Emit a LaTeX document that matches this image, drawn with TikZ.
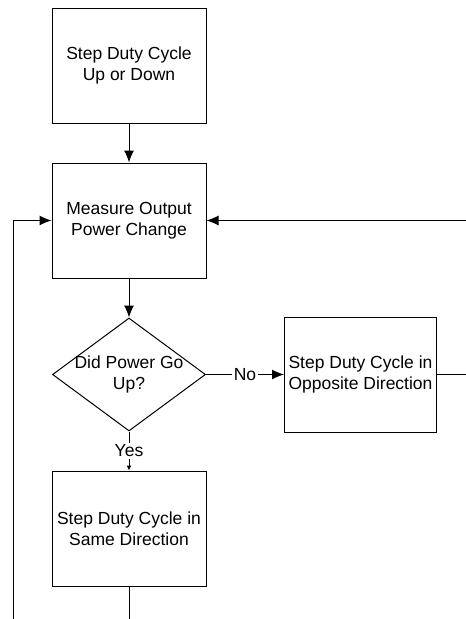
\documentclass[tikz,border=0pt]{standalone}
\usepackage{fontspec}
\setmainfont{Liberation Sans}
\usepackage{tikz}
\usetikzlibrary{arrows.meta,shapes,shapes.geometric,positioning}

\begin{document}
\begin{tikzpicture}[x=1pt,y=-1pt,line width=1pt,
    font=\fontsize{17.5}{20.5}\selectfont,
    stepbox/.style={draw,rectangle,align=center,minimum width=154pt,minimum height=115pt,inner sep=0pt},
    query/.style={draw,diamond,minimum width=153pt,minimum height=113pt,inner sep=0pt},
    flow/.style={-{Latex[length=12pt,width=10pt]}},
    smallflow/.style={-{Latex[length=5pt,width=5pt]}},
    tag/.style={fill=white,inner sep=1.5pt}]
\useasboundingbox (0,0) rectangle (466,619);

\node[stepbox] (step) at (129,65.5) {Step Duty Cycle\\Up or Down};
\node[stepbox,below=39pt of step] (measure) {Measure Output\\Power Change};
\node[query,below=39pt of measure,label={[align=center]center:Did Power Go\\Up?}] (power) {};
\node[stepbox,right=78pt of power,minimum width=152pt] (opposite) {Step Duty Cycle in\\Opposite Direction};
\node[stepbox,below=39pt of power] (same) {Step Duty Cycle in\\Same Direction};

\coordinate (redge) at (466,0);
\coordinate (lfoot) at (13,619);
\coordinate (rin) at (measure.east -| redge);
\coordinate (rout) at (opposite.east -| redge);
\coordinate (sfoot) at (same.south |- lfoot);

\draw[flow] (step) -- (measure);
\draw[flow] (measure) -- (power);
\draw[flow] (power.east) -- node[tag] {No} (opposite.west);
\draw[smallflow] (power.south) -- node[tag] {Yes} (same.north);
\draw (opposite.east) -- (rout);
\draw[flow] (rin) -- (measure.east);
\draw (same.south) -- (sfoot);
\draw[flow] (lfoot) |- (measure.west);

\end{tikzpicture}
\end{document}
